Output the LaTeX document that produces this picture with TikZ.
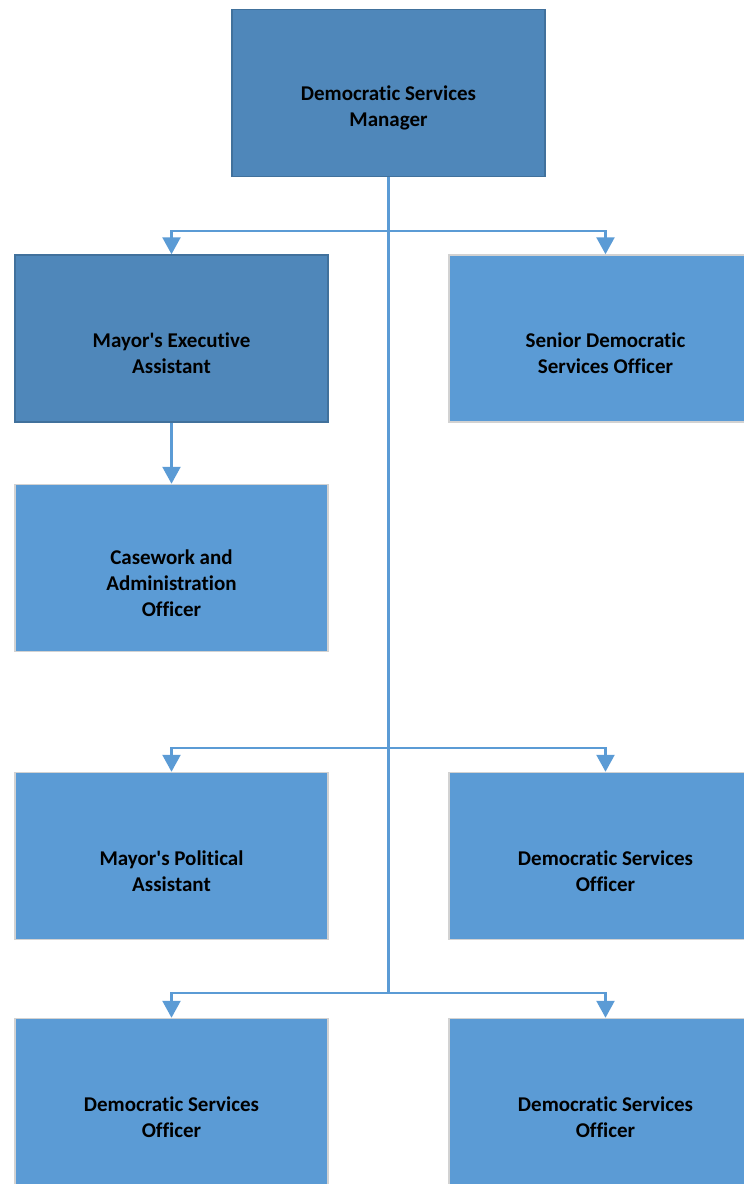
\documentclass[tikz,border=0pt]{standalone}
\usepackage{fontspec}
\setmainfont{Carlito}[Ligatures={TeX,NoCommon}]
\usetikzlibrary{arrows.meta}
\definecolor{myDarkBlue}{RGB}{79,135,186}
\definecolor{myBlue}{RGB}{91,155,213}
\definecolor{myEdge}{RGB}{65,113,156}

\begin{document}
\begin{tikzpicture}[%
    x=1pt, y=1pt,
    box/.style={
        draw=gray!35,
        line width=1.5pt,
        fill=myBlue,
        minimum width=313pt,
        minimum height=167pt,
        inner sep=0pt,
    },
    darkbox/.style={box, draw=myEdge, fill=myDarkBlue},
    boxtext/.style={
        font=\bfseries\fontsize{21}{26}\selectfont,
        align=center,
        yshift=-15pt,
    },
    link/.style={
        draw=myBlue,
        line width=2.5pt,
        -{Triangle[length=17pt,width=18pt]},
    },
]
\useasboundingbox (0,0) rectangle (744,-1184);

% place boxes
\node[darkbox] (mgr) at (388.5,-93) {};
\node[darkbox] (exec) at (171.5,-338.5) {};
\node[box] (senior) at (605.5,-338.5) {};
\node[box] (case) at (171.5,-568) {};
\node[box] (pol) at (171.5,-856) {};
\node[box] (dsoA) at (605.5,-856) {};
\node[box] (dsoB) at (171.5,-1102) {};
\node[box] (dsoC) at (605.5,-1102) {};

% place box texts
\node[boxtext] (mgrText) at (mgr) {Democratic Services\\Manager};
\node[boxtext] (execText) at (exec) {Mayor\textquotesingle s Executive\\Assistant};
\node[boxtext] (seniorText) at (senior) {Senior Democratic\\Services Officer};
\node[boxtext] (caseText) at (case) {Casework and\\Administration\\Officer};
\node[boxtext] (polText) at (pol) {Mayor\textquotesingle s Political\\Assistant};
\foreach \n in {dsoA,dsoB,dsoC} {
    \node[boxtext] (\n Text) at (\n) {Democratic Services\\Officer};
}

% branch points on the trunk
\coordinate (rowA) at (388.5,-231);
\coordinate (rowB) at (388.5,-748);
\coordinate (rowC) at (388.5,-993);

% draw trunk
\draw[link, -] (mgr.south) -- (rowC);

% draw branches
\draw[link] (rowA) -| (exec.north);
\draw[link] (rowA) -| (senior.north);
\draw[link] (rowB) -| (pol.north);
\draw[link] (rowB) -| (dsoA.north);
\draw[link] (rowC) -| (dsoB.north);
\draw[link] (rowC) -| (dsoC.north);
\draw[link] (exec.south) -- (case.north);

\end{tikzpicture}
\end{document}
